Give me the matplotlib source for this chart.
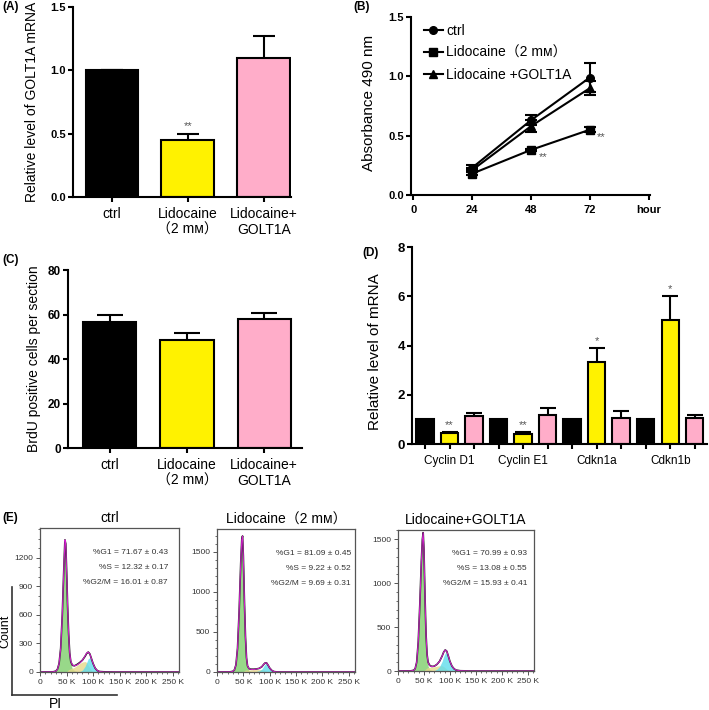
import numpy as np
import matplotlib
matplotlib.use("Agg")
import matplotlib.pyplot as plt
from matplotlib.ticker import MultipleLocator, FixedLocator

plt.rcParams["font.family"] = ["Liberation Sans", "Noto Sans CJK SC", "DejaVu Sans"]

W, H = 709, 710

# ---- data ----
LIDO = "Lidocaine（2 mᴍ）"
groups = ["ctrl", "Lidocaine\n（2 mᴍ）", "Lidocaine+\nGOLT1A"]
bar_colors = ["black", "#fff200", "#ffadc9"]

# (A) GOLT1A mRNA
golt1a_mean = [1.0, 0.45, 1.10]
golt1a_err = [0.0, 0.05, 0.17]

# (B) MTT absorbance
hours = [24, 48, 72]
mtt_ctrl = [0.23, 0.63, 0.99]
mtt_ctrl_err = [0.02, 0.04, 0.125]
mtt_lido = [0.18, 0.38, 0.55]
mtt_lido_err = [0.01, 0.01, 0.02]
mtt_golt = [0.21, 0.58, 0.90]
mtt_golt_err = [0.02, 0.05, 0.06]

# (C) BrdU
brdu_mean = [56.5, 48.5, 58.0]
brdu_err = [3.3, 3.0, 2.8]

# (D) cell-cycle genes
genes = ["Cyclin D1", "Cyclin E1", "Cdkn1a", "Cdkn1b"]
mrna_ctrl = [1.0, 1.0, 1.0, 1.0]
mrna_lido = [0.45, 0.40, 3.35, 5.02]
mrna_lido_err = [0.05, 0.08, 0.56, 0.98]
mrna_golt = [1.12, 1.17, 1.07, 1.07]
mrna_golt_err = [0.15, 0.28, 0.25, 0.10]
mrna_stars = ["**", "**", "*", "*"]

# (E) flow cytometry, PI channel in K
pi_k = [0, 25, 30, 33, 36, 39, 42, 45, 47, 48.5, 50, 52, 54, 56, 58, 61,
        65, 70, 75, 80, 85, 88, 91, 94, 97, 100, 104, 108, 112, 120, 140, 262]

ctrl_total = [0, 2, 10, 30, 90, 250, 600, 1100, 1390, 1350, 1100, 700, 400, 200, 110, 70,
              65, 80, 100, 125, 165, 195, 210, 190, 140, 90, 40, 15, 5, 2, 0, 0]
ctrl_g1 = [0, 2, 10, 30, 90, 250, 600, 1100, 1390, 1350, 1090, 680, 370, 170, 80, 35,
           15, 5, 0, 0, 0, 0, 0, 0, 0, 0, 0, 0, 0, 0, 0, 0]
ctrl_s = [0, 0, 0, 0, 0, 0, 0, 0, 0, 0, 5, 15, 25, 30, 35, 40,
          50, 70, 90, 105, 110, 100, 70, 40, 15, 5, 0, 0, 0, 0, 0, 0]
ctrl_g2 = [0, 0, 0, 0, 0, 0, 0, 0, 0, 0, 0, 0, 0, 0, 0, 0,
           0, 0, 5, 20, 60, 100, 140, 150, 125, 85, 40, 15, 5, 0, 0, 0]

lido_total = [0, 2, 8, 25, 90, 300, 750, 1350, 1650, 1700, 1450, 900, 450, 180, 75, 40,
              35, 35, 38, 45, 65, 90, 112, 115, 85, 50, 20, 6, 2, 0, 0, 0]
lido_g1 = [0, 2, 8, 25, 90, 300, 750, 1350, 1650, 1700, 1440, 880, 420, 150, 50, 15,
           5, 0, 0, 0, 0, 0, 0, 0, 0, 0, 0, 0, 0, 0, 0, 0]
lido_s = [0, 0, 0, 0, 0, 0, 0, 0, 0, 0, 5, 15, 25, 25, 25, 25,
          28, 30, 30, 30, 30, 25, 15, 8, 3, 0, 0, 0, 0, 0, 0, 0]
lido_g2 = [0, 0, 0, 0, 0, 0, 0, 0, 0, 0, 0, 0, 0, 0, 0, 0,
           0, 0, 8, 15, 35, 65, 97, 107, 82, 50, 20, 6, 2, 0, 0, 0]

golt_total = [0, 2, 8, 25, 100, 330, 750, 1250, 1500, 1575, 1380, 850, 420, 190, 100, 65,
              52, 55, 75, 110, 170, 215, 240, 225, 170, 110, 55, 25, 10, 3, 0, 0]
golt_g1 = [0, 2, 8, 25, 100, 330, 750, 1250, 1500, 1575, 1370, 830, 390, 150, 55, 20,
           6, 2, 0, 0, 0, 0, 0, 0, 0, 0, 0, 0, 0, 0, 0, 0]
golt_s = [0, 0, 0, 0, 0, 0, 0, 0, 0, 0, 5, 15, 25, 35, 40, 42,
          44, 48, 55, 60, 60, 50, 35, 20, 8, 3, 0, 0, 0, 0, 0, 0]
golt_g2 = [0, 0, 0, 0, 0, 0, 0, 0, 0, 0, 0, 0, 0, 0, 0, 0,
           0, 5, 20, 50, 110, 165, 205, 205, 162, 107, 55, 25, 10, 3, 0, 0]

ctrl_yticks = [0, 300, 600, 900, 1200]
cycle_yticks = [0, 500, 1000, 1500]

ctrl_stats = ["%G1 = 71.67 ± 0.43", "%S = 12.32 ± 0.17", "%G2/M = 16.01 ± 0.87"]
lido_stats = ["%G1 = 81.09 ± 0.45", "%S = 9.22 ± 0.52", "%G2/M = 9.69 ± 0.31"]
golt_stats = ["%G1 = 70.99 ± 0.93", "%S = 13.08 ± 0.55", "%G2/M = 15.93 ± 0.41"]


def add_axes_px(fig, left, top, right, bottom):
    return fig.add_axes([left / W, 1 - bottom / H, (right - left) / W, (bottom - top) / H])


def style_bar_axes(ax, ysize=8):
    for side in ["top", "right"]:
        ax.spines[side].set_visible(False)
    for side in ["left", "bottom"]:
        ax.spines[side].set_linewidth(1.5)
    ax.tick_params(direction="out", length=3.6, width=1.5, pad=1.5)
    ax.tick_params(axis="x", pad=3.5)
    ax.tick_params(axis="y", labelsize=ysize)
    for lab in ax.get_yticklabels():
        lab.set_fontweight("bold")


def plot_bars(ax, means, errs, capsize):
    x = np.arange(len(means))
    ax.errorbar(x, means, yerr=errs, fmt="none", ecolor="black",
                elinewidth=1.5, capsize=capsize, capthick=1.5, zorder=1)
    ax.bar(x, means, width=0.69, color=bar_colors, edgecolor="black",
           linewidth=1.5, zorder=2)
    ax.set_xticks(x)
    ax.set_xticklabels(groups, fontsize=10, linespacing=1.2)


def draw_hist(ax, total, g1, s, g2, ymax, yticks, title, stats, stat_x):
    ax.fill_between(pi_k, g1, color="#86d274", alpha=0.85, lw=0)
    ax.fill_between(pi_k, s, color="#e6d98a", alpha=0.8, lw=0)
    ax.fill_between(pi_k, g2, color="#5fdcec", alpha=0.8, lw=0)
    fit = np.array(g1) + np.array(s) + np.array(g2)
    ax.plot(pi_k, total, color="#222222", lw=1.2)
    ax.plot(pi_k, fit, color="#d61fd0", lw=0.7)
    ax.set_xlim(0, 262)
    ax.set_ylim(0, ymax)
    ax.set_xticks([0, 50, 100, 150, 200, 250])
    ax.set_xticklabels(["0", "50 K", "100 K", "150 K", "200 K", "250 K"])
    ax.xaxis.set_minor_locator(MultipleLocator(10))
    ax.yaxis.set_major_locator(FixedLocator(yticks))
    ax.yaxis.set_minor_locator(MultipleLocator(100))
    ax.tick_params(which="major", length=3, width=0.7, labelsize=6,
                   labelcolor="#333333", color="#555555", pad=2)
    ax.tick_params(which="minor", length=1.5, width=0.6, color="#555555")
    for sp in ax.spines.values():
        sp.set_color("#555555")
        sp.set_linewidth(0.9)
    ax.set_title(title, fontsize=10, pad=4)
    for i, line in enumerate(stats):
        ax.text(stat_x, 0.832 - 0.105 * i, line, transform=ax.transAxes,
                ha="right", va="center", fontsize=6, color="#333333")


fig = plt.figure(figsize=(W / 100, H / 100), dpi=100)

# ---- (A) ----
ax = add_axes_px(fig, 73, 7, 291, 197)
plot_bars(ax, golt1a_mean, golt1a_err, capsize=8)
ax.set_xlim(-0.51, 2.36)
ax.set_ylim(0, 1.5)
ax.set_yticks([0, 0.5, 1.0, 1.5])
style_bar_axes(ax)
ax.text(1, golt1a_mean[1] + golt1a_err[1] + 0.02, "**", ha="center", va="bottom",
        fontsize=8, color="#555555")
ax.set_ylabel("Relative level of GOLT1A mRNA", fontsize=10)
ax.yaxis.set_label_coords(-0.156, 0.5)

# ---- (B) ----
ax = add_axes_px(fig, 411, 17, 650, 195)
series = [(mtt_ctrl, mtt_ctrl_err, "o", "ctrl"),
          (mtt_lido, mtt_lido_err, "s", LIDO),
          (mtt_golt, mtt_golt_err, "^", "Lidocaine +GOLT1A")]
for vals, errs, mk, lab in series:
    ax.errorbar(hours, vals, yerr=errs, fmt="none", ecolor="black",
                elinewidth=1.5, capsize=4, capthick=1.5)
    ax.plot(hours, vals, color="black", lw=1.5, marker=mk, ms=5.5, label=lab)
for h, v in zip(hours[1:], mtt_lido[1:]):
    ax.text(h + 3, v - 0.06, "**", ha="left", va="center", fontsize=8, color="#555555")
ax.set_xlim(-1, 96.6)
ax.set_ylim(0, 1.5)
ax.set_xticks([0, 24, 48, 72, 96])
ax.set_xticklabels(["0", "24", "48", "72", "hour"], fontweight="bold", fontsize=8)
ax.set_yticks([0, 0.5, 1.0, 1.5])
style_bar_axes(ax)
ax.legend(loc="upper left", bbox_to_anchor=(0.03, 0.99), frameon=False, fontsize=10,
          handlelength=1.4, handletextpad=0.2, labelspacing=0.55, borderaxespad=0)
ax.set_ylabel("Absorbance 490 nm", fontsize=11)
ax.yaxis.set_label_coords(-0.146, 0.52)

# ---- (C) ----
ax = add_axes_px(fig, 68, 270, 302, 448)
plot_bars(ax, brdu_mean, brdu_err, capsize=9.5)
ax.set_xlim(-0.54, 2.49)
ax.set_ylim(0, 80)
ax.set_yticks([0, 20, 40, 60, 80])
style_bar_axes(ax, ysize=8.5)
ax.set_ylabel("BrdU positive cells per section", fontsize=10)
ax.yaxis.set_label_coords(-0.115, 0.5)

# ---- (D) ----
ax = add_axes_px(fig, 412, 247, 707, 444)
base = np.arange(len(genes)) * 3
for off, vals, errs, col in [(0, mrna_ctrl, None, bar_colors[0]),
                             (1, mrna_lido, mrna_lido_err, bar_colors[1]),
                             (2, mrna_golt, mrna_golt_err, bar_colors[2])]:
    if errs is not None:
        ax.errorbar(base + off, vals, yerr=errs, fmt="none", ecolor="black",
                    elinewidth=1.5, capsize=5.5, capthick=1.5, zorder=1)
    ax.bar(base + off, vals, width=0.71, color=col, edgecolor="black",
           linewidth=1.5, zorder=2)
for b, v, e, st in zip(base, mrna_lido, mrna_lido_err, mrna_stars):
    ax.text(b + 1, v + e + 0.08, st, ha="center", va="bottom", fontsize=8, color="#555555")
ticks = np.arange(len(genes) * 3)
ax.set_xticks(ticks)
ax.set_xticklabels([genes[t // 3] if t % 3 == 1 else "" for t in ticks], fontsize=8.5)
ax.set_xlim(-0.53, 11.5)
ax.set_ylim(0, 8)
ax.set_yticks([0, 2, 4, 6, 8])
style_bar_axes(ax, ysize=9.5)
ax.tick_params(axis="x", pad=4.5)
ax.set_ylabel("Relative level of mRNA", fontsize=11)
ax.yaxis.set_label_coords(-0.102, 0.47)

# ---- (E) ----
ax = add_axes_px(fig, 40, 528, 179, 672)
draw_hist(ax, ctrl_total, ctrl_g1, ctrl_s, ctrl_g2, 1515, ctrl_yticks, "ctrl",
          ctrl_stats, 0.92)
ax = add_axes_px(fig, 217, 529, 355, 672)
draw_hist(ax, lido_total, lido_g1, lido_s, lido_g2, 1787, cycle_yticks, LIDO,
          lido_stats, 0.971)
ax = add_axes_px(fig, 398, 530, 534, 671)
draw_hist(ax, golt_total, golt_g1, golt_s, golt_g2, 1605, cycle_yticks,
          "Lidocaine+GOLT1A", golt_stats, 0.949)

# L-shaped Count / PI axis
ax = add_axes_px(fig, 12, 587, 117, 695)
ax.set_xticks([])
ax.set_yticks([])
ax.patch.set_visible(False)
for side in ["top", "right"]:
    ax.spines[side].set_visible(False)
for side in ["left", "bottom"]:
    ax.spines[side].set_linewidth(1.2)
    ax.spines[side].set_color("#333333")
fig.text(5 / W, 1 - 631 / H, "Count", rotation=90, ha="center", va="center", fontsize=9)
fig.text(55 / W, 1 - 704 / H, "PI", ha="center", va="center", fontsize=10)

# panel letters
for lab, x, y in [("(A)", 2, 7), ("(B)", 353, 7), ("(C)", 2, 260),
                  ("(D)", 362, 253), ("(E)", 2, 518)]:
    fig.text(x / W, 1 - y / H, lab, ha="left", va="center", fontsize=8.5, fontweight="bold")

fig.savefig("out.png", dpi=100)
